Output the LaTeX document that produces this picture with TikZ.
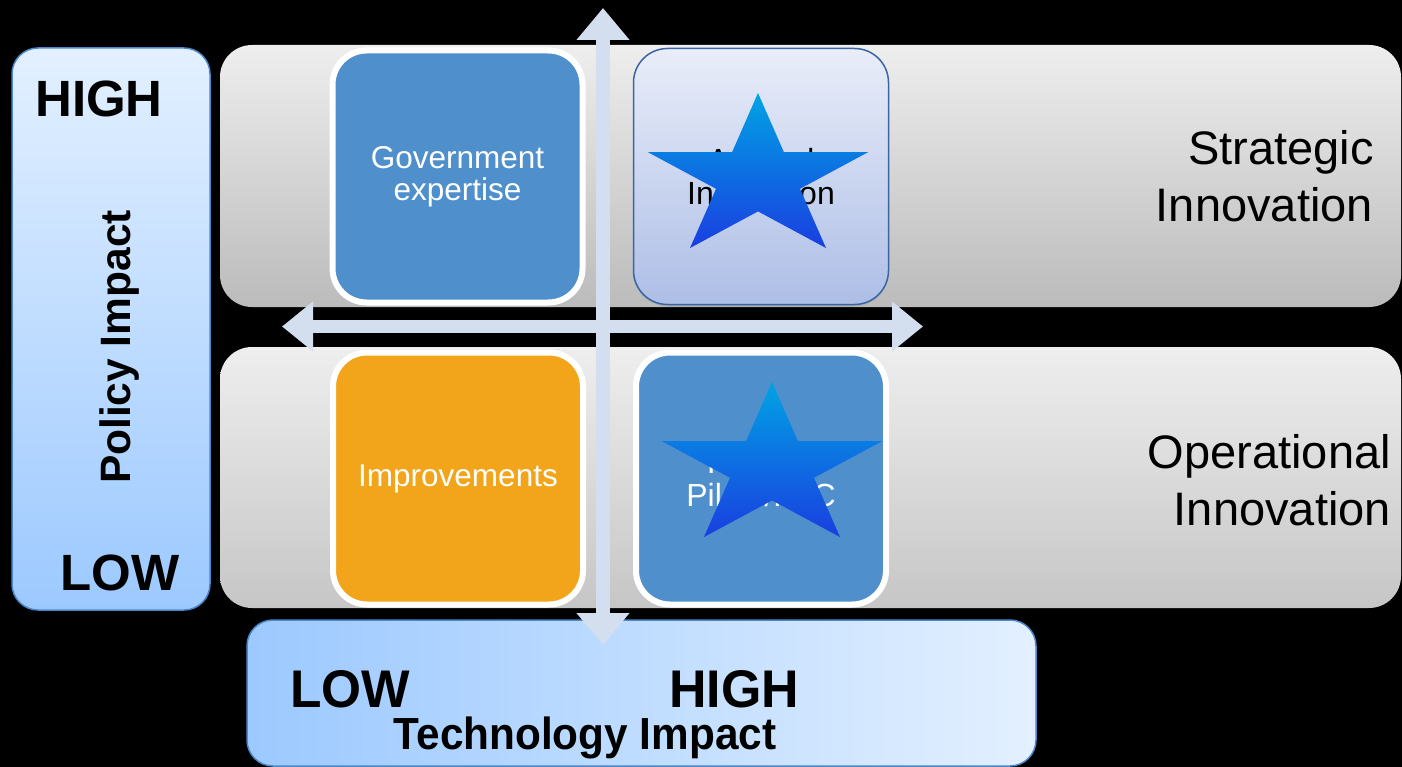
\documentclass[tikz,border=0pt]{standalone}
\usepackage{fontspec}
\setmainfont{Liberation Sans}
\usetikzlibrary{arrows.meta,shadows}
\definecolor{bandTop}{HTML}{EEEEEE}
\definecolor{bandBot}{HTML}{BBBBBB}
\definecolor{bandBotB}{HTML}{C6C6C6}
\definecolor{panelLight}{HTML}{E3F0FF}
\definecolor{panelDark}{HTML}{9CC9FF}
\definecolor{panelBorder}{HTML}{4C88C9}
\definecolor{boxBlue}{HTML}{4F8FCB}
\definecolor{boxOrange}{HTML}{F2A41A}
\definecolor{applTop}{HTML}{E9EDF9}
\definecolor{applBot}{HTML}{ADBEE6}
\definecolor{applBorder}{HTML}{3A65A5}
\definecolor{axisCol}{HTML}{D3DEEF}
\definecolor{starTop}{HTML}{00A3E4}
\definecolor{starBot}{HTML}{1A3EE0}
\begin{document}
\begin{tikzpicture}[x=1pt,y=-1pt,
  band/.style={rounded corners=32pt},
  panel/.style={draw=panelBorder, line width=1.5pt, rounded corners=26pt},
  quad/.style={rounded corners=34pt, minimum width=250pt, minimum height=252pt,
     align=center, inner sep=0pt,
     drop shadow={shadow xshift=0pt, shadow yshift=-2pt, opacity=.35, fill=gray!80}},
  whitequad/.style={quad, draw=white, line width=6pt, text=white,
     font=\fontsize{31.5}{32}\selectfont},
  axisarrow/.style={draw=axisCol, line width=#1},
  bigbold/.style={font=\bfseries\fontsize{51}{51}\selectfont, inner sep=0pt},
  bandlabel/.style={font=\fontsize{47}{47}\selectfont, inner sep=0pt},
  startip/.style={top color=starTop, bottom color=starBot}
]
\fill[black] (0,0) rectangle (1402,767);
\useasboundingbox (0,0) rectangle (1402,767);

% bands
\shade[band, top color=bandTop, bottom color=bandBot] (220,45) rectangle (1401,307);
\shade[band, top color=bandTop, bottom color=bandBotB] (220,347) rectangle (1401,608);

% left panel
\shade[panel, top color=panelLight, bottom color=panelDark] (12,48) rectangle (210,610);
\node[bigbold, anchor=base] (lhigh) at (99,117) {HIGH};
\node[bigbold, anchor=base] (llow) at (120,590) {LOW};
\node[font=\bfseries\fontsize{42.5}{43}\selectfont, rotate=90, inner sep=0pt] (policy) at (120,347) {Policy Impact};

% bottom panel
\shade[panel, left color=panelDark, right color=panelLight] (247,620) rectangle (1036,766);
\node[font=\bfseries\fontsize{53}{53}\selectfont, inner sep=0pt, anchor=base, xscale=0.97] (blow) at (350,707) {LOW};
\node[font=\bfseries\fontsize{53}{53}\selectfont, inner sep=0pt, anchor=base, xscale=0.98] (bhigh) at (734,707) {HIGH};
\node[font=\bfseries\fontsize{45}{45}\selectfont, inner sep=0pt, anchor=base, xscale=0.94] (tech) at (585,749) {Technology Impact};

% band labels
\node[bandlabel, anchor=base east] (s1) at (1374,165) {Strategic};
\node[bandlabel, anchor=base east] (s2) at (1373,222) {Innovation};
\node[bandlabel, anchor=base east] (o1) at (1391,468) {Operational};
\node[bandlabel, anchor=base east] (o2) at (1391,525) {Innovation};

% quadrant boxes
\node[whitequad, fill=boxBlue] (gov) at (457.5,176.5) {Government\\expertise};
\node[whitequad, fill=boxOrange, font=\fontsize{31.5}{32}\selectfont] (impr) at (458,478.5) {Improvements};
\node[quad, draw=applBorder, line width=1.5pt, top color=applTop, bottom color=applBot,
      minimum width=255pt, minimum height=256pt, text=black,
      font=\fontsize{32}{33}\selectfont] (appl) at (761,176.5) {Applied\\Innovation};
\node[whitequad, fill=boxBlue, font=\fontsize{32}{33}\selectfont] (pilot) at (761,478.5) {IoT Lab\\Pilots/PoC};

% stars
\begin{scope}[shift={(758,178.7)}, xscale=1.35]
\shade[startip] (-90:85.7) -- (-54:32.7) -- (-18:85.7) -- (18:32.7) -- (54:85.7) -- (90:32.7)
  -- (126:85.7) -- (162:32.7) -- (198:85.7) -- (234:32.7) -- cycle;
\end{scope}
\begin{scope}[shift={(772,467.7)}, xscale=1.35]
\shade[startip] (-90:85.7) -- (-54:32.7) -- (-18:85.7) -- (18:32.7) -- (54:85.7) -- (90:32.7)
  -- (126:85.7) -- (162:32.7) -- (198:85.7) -- (234:32.7) -- cycle;
\end{scope}

% axes
\coordinate (vtop) at (603,8);
\coordinate (vbot) at (603,645);
\coordinate (hleft) at (282,326.5);
\coordinate (hright) at (923,326.5);
\draw[axisarrow=14pt, {Triangle[width=51pt,length=32pt]}-{Triangle[width=51pt,length=32pt]}] (vtop) -- (vbot);
\draw[axisarrow=13pt, {Triangle[width=48pt,length=31pt]}-{Triangle[width=48pt,length=31pt]}] (hleft) -- (hright);
\end{tikzpicture}
\end{document}
